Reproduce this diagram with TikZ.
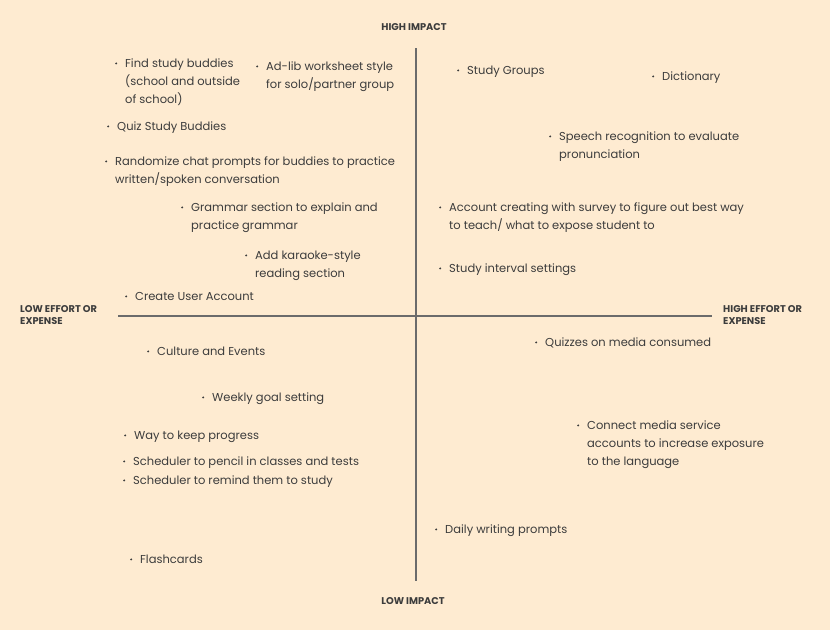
\documentclass[tikz,border=0pt]{standalone}
\usepackage{fontspec}
\setmainfont{Poppins}
\definecolor{bg}{HTML}{FEEBD1}
\definecolor{ink}{HTML}{3C3C3C}
\definecolor{axis}{HTML}{6B6B6B}
\newcommand{\itm}[1]{\llap{\raisebox{2.5pt}{\tikz\fill[ink] (0,0) circle (1.1pt);}\hspace{7.9pt}}\begin{tabular}[t]{@{}l@{}}#1\end{tabular}}
\tikzset{
  item/.style={anchor=base west, inner sep=0pt, text=ink, font=\fontsize{11.5}{18}\selectfont},
  axlabel/.style={inner sep=0pt, text=ink, font=\bfseries\fontsize{9.8}{12}\selectfont, align=left},
  axisline/.style={draw=axis, line width=1.6pt}
}
\begin{document}
\begin{tikzpicture}[x=1pt,y=-1pt]
\fill[bg] (0,0) rectangle (830,630);
\useasboundingbox (0,0) rectangle (830,630);
% axes
\coordinate (top) at (416,48);
\coordinate (bot) at (416,581);
\coordinate (lft) at (118,316);
\coordinate (rgt) at (712,316);
\draw[axisline] (top) -- (bot);
\draw[axisline] (lft) -- (rgt);
% axis labels
\node[axlabel, anchor=base] (hi) at (414,30) {HIGH IMPACT};
\node[axlabel, anchor=base] (lo) at (413,604) {LOW IMPACT};
\node[axlabel, anchor=base west] (le) at (20,312) {\begin{tabular}[t]{@{}l@{}}LOW EFFORT OR\\EXPENSE\end{tabular}};
\node[axlabel, anchor=base west] (he) at (723,312) {\begin{tabular}[t]{@{}l@{}}HIGH EFFORT OR\\EXPENSE\end{tabular}};
% top-left quadrant
\node[item] (i1) at (125,67) {\itm{Find study buddies\\(school and outside\\of school)}};
\node[item] (i2) at (266,70) {\itm{Ad-lib worksheet style\\for solo/partner group}};
\node[item] (i3) at (117,130) {\itm{Quiz Study Buddies}};
\node[item] (i4) at (115,165) {\itm{Randomize chat prompts for buddies to practice\\written/spoken conversation}};
\node[item] (i5) at (191,211) {\itm{Grammar section to explain and\\practice grammar}};
\node[item] (i6) at (255,259) {\itm{Add karaoke-style\\reading section}};
\node[item] (i7) at (135,300) {\itm{Create User Account}};
% top-right quadrant
\node[item] (i8) at (467,74) {\itm{Study Groups}};
\node[item] (i9) at (662,80) {\itm{Dictionary}};
\node[item] (i10) at (559,140) {\itm{Speech recognition to evaluate\\pronunciation}};
\node[item] (i11) at (449,211) {\itm{Account creating with survey to figure out best way\\to teach/ what to expose student to}};
\node[item] (i12) at (449,272) {\itm{Study interval settings}};
% bottom-left quadrant
\node[item] (i13) at (157,355) {\itm{Culture and Events}};
\node[item] (i14) at (212,401) {\itm{Weekly goal setting}};
\node[item] (i15) at (134,439) {\itm{Way to keep progress}};
\node[item] (i16) at (133,465) {\itm{Scheduler to pencil in classes and tests}};
\node[item] (i17) at (133,484) {\itm{Scheduler to remind them to study}};
\node[item] (i18) at (140,563) {\itm{Flashcards}};
% bottom-right quadrant
\node[item] (i19) at (545,346) {\itm{Quizzes on media consumed}};
\node[item] (i20) at (587,429) {\itm{Connect media service\\accounts to increase exposure\\to the language}};
\node[item] (i21) at (445,533) {\itm{Daily writing prompts}};
\end{tikzpicture}
\end{document}
